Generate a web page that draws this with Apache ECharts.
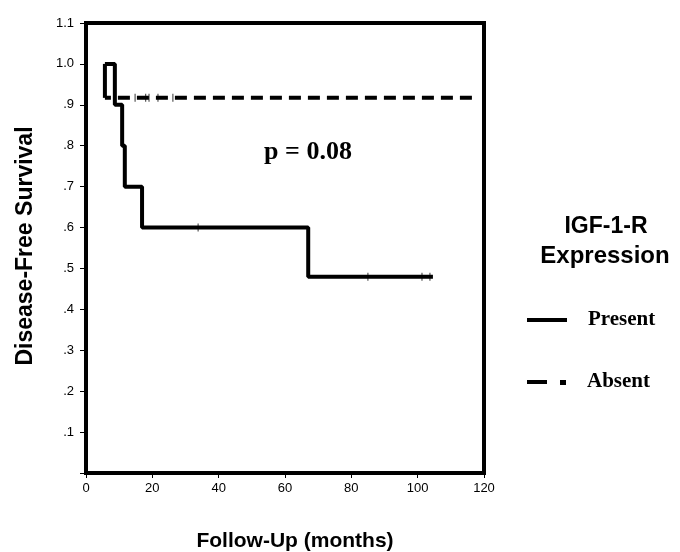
<!DOCTYPE html>
<html>
<head>
<meta charset="utf-8">
<script src="https://cdn.jsdelivr.net/npm/echarts@6/dist/echarts.min.js"></script>
<style>html,body{margin:0;padding:0;background:#fff}#c{width:680px;height:552px}</style>
</head>
<body>
<div id="c"></div>
<script>
// Kaplan-Meier step points [month, survival]
const presentSteps = [[5.7,1.0],[8.7,0.9],[10.9,0.8],[11.7,0.7],[16.9,0.6],[67,0.48],[104.6,0.48]];
const absentSteps = [[5.7,1.0],[5.7,0.917],[117,0.917]];
// Censored observations
const presentCensored = [[33.8,0.6],[85,0.48],[101.3,0.48],[103.7,0.48]];
const absentCensored = [[14.8,0.917],[18,0.917],[19,0.917],[21.7,0.917],[26.2,0.917]];
const xTicks = [0,20,40,60,80,100,120];
const yTickLabels = {0:'',1:'.1',2:'.2',3:'.3',4:'.4',5:'.5',6:'.6',7:'.7',8:'.8',9:'.9',10:'1.0',11:'1.1'};
const pText = 'p = 0.08';
const legendTitle = ['IGF-1-R','Expression'];
const legendNames = ['Present','Absent'];

const chart = echarts.init(document.getElementById('c'), null, {renderer:'canvas'});
const sans = 'Liberation Sans, Arial, sans-serif';
const serif = 'Liberation Serif, Times New Roman, serif';
chart.setOption({
  animation:false,
  backgroundColor:'#fff',
  grid:{left:86,right:196,top:23,bottom:79,show:true,borderColor:'#000',borderWidth:4,backgroundColor:'transparent'},
  xAxis:{type:'value',min:xTicks[0],max:xTicks[xTicks.length-1],interval:20,
    axisLine:{show:true,lineStyle:{color:'#000',width:4}},
    axisTick:{show:true,length:5,lineStyle:{color:'#000',width:1}},
    axisLabel:{color:'#000',fontFamily:sans,fontSize:13,margin:9},
    splitLine:{show:false}},
  yAxis:{type:'value',min:0,max:1.1,interval:0.1,
    axisLine:{show:true,lineStyle:{color:'#000',width:4}},
    axisTick:{show:true,length:6,lineStyle:{color:'#000',width:1}},
    axisLabel:{color:'#000',fontFamily:sans,fontSize:13,margin:12,
      formatter:function(v){return yTickLabels[Math.round(v*10)];}},
    splitLine:{show:false}},
  series:[
    {type:'line',data:presentSteps,step:'end',symbol:'none',lineStyle:{color:'#000',width:4},z:3},
    {type:'line',data:absentSteps.slice(1),symbol:'none',lineStyle:{color:'#000',width:4,type:[12,7],dashOffset:6},z:3},
    {type:'line',data:absentSteps.slice(0,2),symbol:'none',lineStyle:{color:'#000',width:4},z:3},
    {type:'scatter',data:presentCensored,symbol:'rect',symbolSize:[1,8],itemStyle:{color:'#000'},z:4},
    {type:'scatter',data:absentCensored,symbol:'rect',symbolSize:[1,8],itemStyle:{color:'#000'},z:4}
  ],
  graphic:[
    {type:'text',style:{text:'Disease-Free Survival',font:'bold 23px '+sans,fill:'#000',textAlign:'center',textVerticalAlign:'middle'},x:26,y:246,rotation:Math.PI/2},
    {type:'text',style:{text:'Follow-Up (months)',font:'bold 21px '+sans,fill:'#000',textAlign:'center',textVerticalAlign:'middle'},x:295,y:541},
    {type:'text',style:{text:pText,font:'bold 26px '+serif,fill:'#000',textAlign:'center',textVerticalAlign:'middle'},x:308,y:152},
    {type:'text',style:{text:legendTitle[0],font:'bold 23px '+sans,fill:'#000',textAlign:'center',textVerticalAlign:'middle'},x:606,y:227},
    {type:'text',style:{text:legendTitle[1],font:'bold 24px '+sans,fill:'#000',textAlign:'center',textVerticalAlign:'middle'},x:605,y:256},
    {type:'line',shape:{x1:527,y1:320,x2:567,y2:320},style:{stroke:'#000',lineWidth:4}},
    {type:'text',style:{text:legendNames[0],font:'bold 21px '+serif,fill:'#000',textAlign:'left',textVerticalAlign:'middle'},x:588,y:320},
    {type:'line',shape:{x1:527,y1:382,x2:547,y2:382},style:{stroke:'#000',lineWidth:4}},
    {type:'rect',shape:{x:560,y:380,width:6,height:5},style:{fill:'#000'}},
    {type:'text',style:{text:legendNames[1],font:'bold 21px '+serif,fill:'#000',textAlign:'left',textVerticalAlign:'middle'},x:587,y:382}
  ]
});
</script>
</body>
</html>
